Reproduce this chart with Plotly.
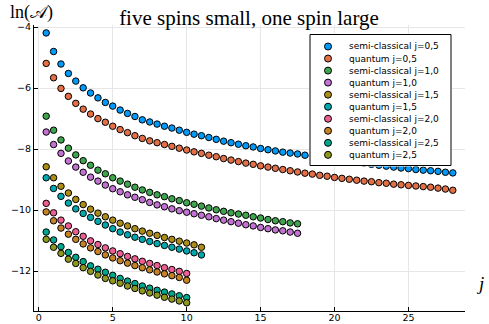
import plotly.graph_objects as go

# ---------------- data ----------------
j_to_28 = [0.5 * k for k in range(1, 57)]     # 0.5 .. 28
j_to_17_5 = [0.5 * k for k in range(1, 36)]   # 0.5 .. 17.5
j_to_11 = [0.5 * k for k in range(1, 23)]     # 0.5 .. 11
j_to_10 = [0.5 * k for k in range(1, 21)]     # 0.5 .. 10

semi_05 = [-4.19, -4.80, -5.21, -5.52, -5.77, -5.99, -6.16, -6.32, -6.47, -6.59,
           -6.72, -6.83, -6.93, -7.04, -7.11, -7.18, -7.25, -7.31, -7.38, -7.45,
           -7.51, -7.56, -7.62, -7.68, -7.74, -7.79, -7.84, -7.89, -7.93, -7.98,
           -8.02, -8.06, -8.10, -8.13, -8.16, -8.20, -8.23, -8.27, -8.30, -8.33,
           -8.37, -8.40, -8.43, -8.46, -8.50, -8.53, -8.56, -8.59, -8.62, -8.64,
           -8.67, -8.69, -8.71, -8.73, -8.76, -8.78]
quant_05 = [-5.19, -5.66, -6.01, -6.27, -6.50, -6.69, -6.85, -7.00, -7.12, -7.25,
            -7.36, -7.46, -7.56, -7.65, -7.73, -7.79, -7.85, -7.91, -7.97, -8.03,
            -8.09, -8.14, -8.20, -8.25, -8.31, -8.36, -8.41, -8.46, -8.50, -8.55,
            -8.59, -8.63, -8.67, -8.71, -8.75, -8.79, -8.82, -8.86, -8.89, -8.93,
            -8.96, -8.99, -9.02, -9.05, -9.07, -9.10, -9.12, -9.15, -9.17, -9.19,
            -9.21, -9.23, -9.25, -9.28, -9.31, -9.35]
semi_10 = [-6.92, -7.38, -7.70, -7.97, -8.19, -8.38, -8.53, -8.69, -8.81, -8.94,
           -9.05, -9.15, -9.25, -9.34, -9.42, -9.50, -9.56, -9.63, -9.69, -9.76,
           -9.81, -9.87, -9.93, -9.99, -10.04, -10.09, -10.13, -10.17, -10.22, -10.26,
           -10.31, -10.35, -10.38, -10.42, -10.45]
quant_10 = [-7.44, -7.85, -8.14, -8.39, -8.59, -8.76, -8.92, -9.05, -9.18, -9.30,
            -9.40, -9.50, -9.58, -9.66, -9.75, -9.83, -9.89, -9.96, -10.02, -10.07,
            -10.12, -10.17, -10.22, -10.28, -10.33, -10.38, -10.43, -10.48, -10.52, -10.57,
            -10.61, -10.65, -10.68, -10.72, -10.76]
semi_15 = [-8.58, -8.94, -9.22, -9.44, -9.65, -9.82, -9.97, -10.10, -10.22, -10.33,
           -10.43, -10.52, -10.61, -10.69, -10.76, -10.83, -10.90, -10.96, -11.02, -11.08,
           -11.14, -11.22]
quant_15 = [-8.94, -9.29, -9.55, -9.77, -9.96, -10.11, -10.24, -10.37, -10.49, -10.61,
            -10.72, -10.81, -10.89, -10.96, -11.03, -11.10, -11.16, -11.22, -11.28, -11.34,
            -11.40, -11.47]
semi_20 = [-9.78, -10.09, -10.33, -10.52, -10.71, -10.86, -11.01, -11.13, -11.24, -11.34,
           -11.43, -11.52, -11.60, -11.68, -11.75, -11.82, -11.89, -11.95, -12.01, -12.08]
quant_20 = [-10.06, -10.35, -10.59, -10.79, -10.96, -11.11, -11.24, -11.36, -11.47, -11.57,
            -11.66, -11.74, -11.82, -11.89, -11.96, -12.03, -12.09, -12.15, -12.21, -12.30]
semi_25 = [-10.72, -10.98, -11.20, -11.39, -11.55, -11.69, -11.83, -11.94, -12.04, -12.14,
           -12.24, -12.33, -12.41, -12.49, -12.56, -12.63, -12.69, -12.75, -12.81, -12.87]
quant_25 = [-10.96, -11.22, -11.42, -11.61, -11.75, -11.89, -12.01, -12.13, -12.24, -12.32,
            -12.40, -12.49, -12.57, -12.65, -12.72, -12.79, -12.86, -12.92, -12.98, -13.04]

series_names = ["semi-classical j=0,5", "quantum j=0,5", "semi-classical j=1,0", "quantum j=1,0",
                "semi-classical j=1,5", "quantum j=1,5", "semi-classical j=2,0", "quantum j=2,0",
                "semi-classical j=2,5", "quantum j=2,5"]
series_x = [j_to_28, j_to_28, j_to_17_5, j_to_17_5, j_to_11, j_to_11, j_to_10, j_to_10, j_to_10, j_to_10]
series_y = [semi_05, quant_05, semi_10, quant_10, semi_15, quant_15, semi_20, quant_20, semi_25, quant_25]

x_ticks = [0, 5, 10, 15, 20, 25]
y_ticks = [-12, -10, -8, -6, -4]

# ---------------- styling ----------------
colors = ["#009AFA", "#E36F47", "#3EA44E", "#C371D2", "#AC8D18",
          "#00A9AD", "#ED5E93", "#C68225", "#00A98D", "#8E971E"]

W, H = 489, 324
ML, MR, MT, MB = 34, 24, 25, 13
PW, PH = W - ML - MR, H - MT - MB

def px_to_paper_x(px):
    return (px - ML) / PW

def px_to_paper_y(py):
    return (H - MB - py) / PH

fig = go.Figure()
for name, xs, ys, c in zip(series_names, series_x, series_y, colors):
    fig.add_trace(go.Scatter(
        x=xs, y=ys, mode="markers", name=name, showlegend=False,
        marker=dict(size=6.5, color=c, line=dict(color="black", width=1)),
        xaxis="x", yaxis="y"))

# ---------------- legend (drawn in its own small subplot) ----------------
LB_L, LB_R, LB_T, LB_B = 310, 451, 34.5, 165.5   # legend box in pixels
box_w, box_h = LB_R - LB_L, LB_B - LB_T
row0, row_step = 12.0, 12.04
mark_x, text_x = 18, 37

fig.add_trace(go.Scatter(
    x=[0, box_w, box_w, 0, 0], y=[0, 0, box_h, box_h, 0], mode="lines",
    fill="toself", fillcolor="white", line=dict(color="black", width=1),
    showlegend=False, hoverinfo="skip", xaxis="x2", yaxis="y2"))
row_y = [box_h - (row0 + row_step * i) for i in range(len(series_names))]
fig.add_trace(go.Scatter(
    x=[mark_x] * len(series_names), y=row_y, mode="markers",
    marker=dict(size=7, color=colors, line=dict(color="black", width=1)),
    showlegend=False, hoverinfo="skip", xaxis="x2", yaxis="y2"))
for name, yy in zip(series_names, row_y):
    fig.add_annotation(x=text_x, y=yy, xref="x2", yref="y2", text=name,
                       showarrow=False, xanchor="left", yanchor="middle",
                       font=dict(family="DejaVu Sans", size=9, color="black"))

axis_common = dict(showline=True, linecolor="black", linewidth=1, mirror=False,
                   showgrid=True, gridcolor="#e6e6e6", gridwidth=1, zeroline=False,
                   ticks="inside", ticklen=4, tickcolor="black", tickwidth=1,
                   automargin=False,
                   tickfont=dict(family="DejaVu Sans", size=9.5, color="black"))

fig.update_layout(
    width=W, height=H,
    margin=dict(l=ML, r=MR, t=MT, b=MB, pad=0, autoexpand=False),
    paper_bgcolor="white", plot_bgcolor="white",
    xaxis=dict(range=[-0.325, 28.825], tickvals=x_ticks, ticktext=[str(t) for t in x_ticks],
               domain=[0, 1], ticklabelstandoff=-2, **axis_common),
    yaxis=dict(range=[-13.31, -3.93], tickvals=y_ticks, domain=[0, 1], **axis_common),
    xaxis2=dict(domain=[px_to_paper_x(LB_L - 1), px_to_paper_x(LB_R + 1)],
                range=[-1, box_w + 1], visible=False, anchor="y2", fixedrange=True),
    yaxis2=dict(domain=[px_to_paper_y(LB_B + 1), px_to_paper_y(LB_T - 1)],
                range=[-1, box_h + 1], visible=False, anchor="x2", fixedrange=True),
    title=dict(text="five spins small, one spin large", x=px_to_paper_x(249), xref="paper",
               xanchor="center", y=1 - 18 / H, yanchor="middle",
               font=dict(family="Liberation Serif", size=21, color="black")),
    showlegend=False,
)

fig.add_annotation(text="ln(𝒜)", x=px_to_paper_x(31.5), y=px_to_paper_y(12.5),
                   xref="paper", yref="paper", showarrow=False,
                   xanchor="center", yanchor="middle",
                   font=dict(family="Liberation Serif", size=18, color="black"))
fig.add_annotation(text="<i>j</i>", x=px_to_paper_x(480), y=px_to_paper_y(283),
                   xref="paper", yref="paper", showarrow=False,
                   xanchor="center", yanchor="middle",
                   font=dict(family="Liberation Serif", size=19, color="black"))

fig.write_html("out.html",
               config={"displayModeBar": False},
               post_script="document.documentElement.style.margin='0';"
                           "document.body.style.margin='0';"
                           "document.body.style.overflow='hidden';")
